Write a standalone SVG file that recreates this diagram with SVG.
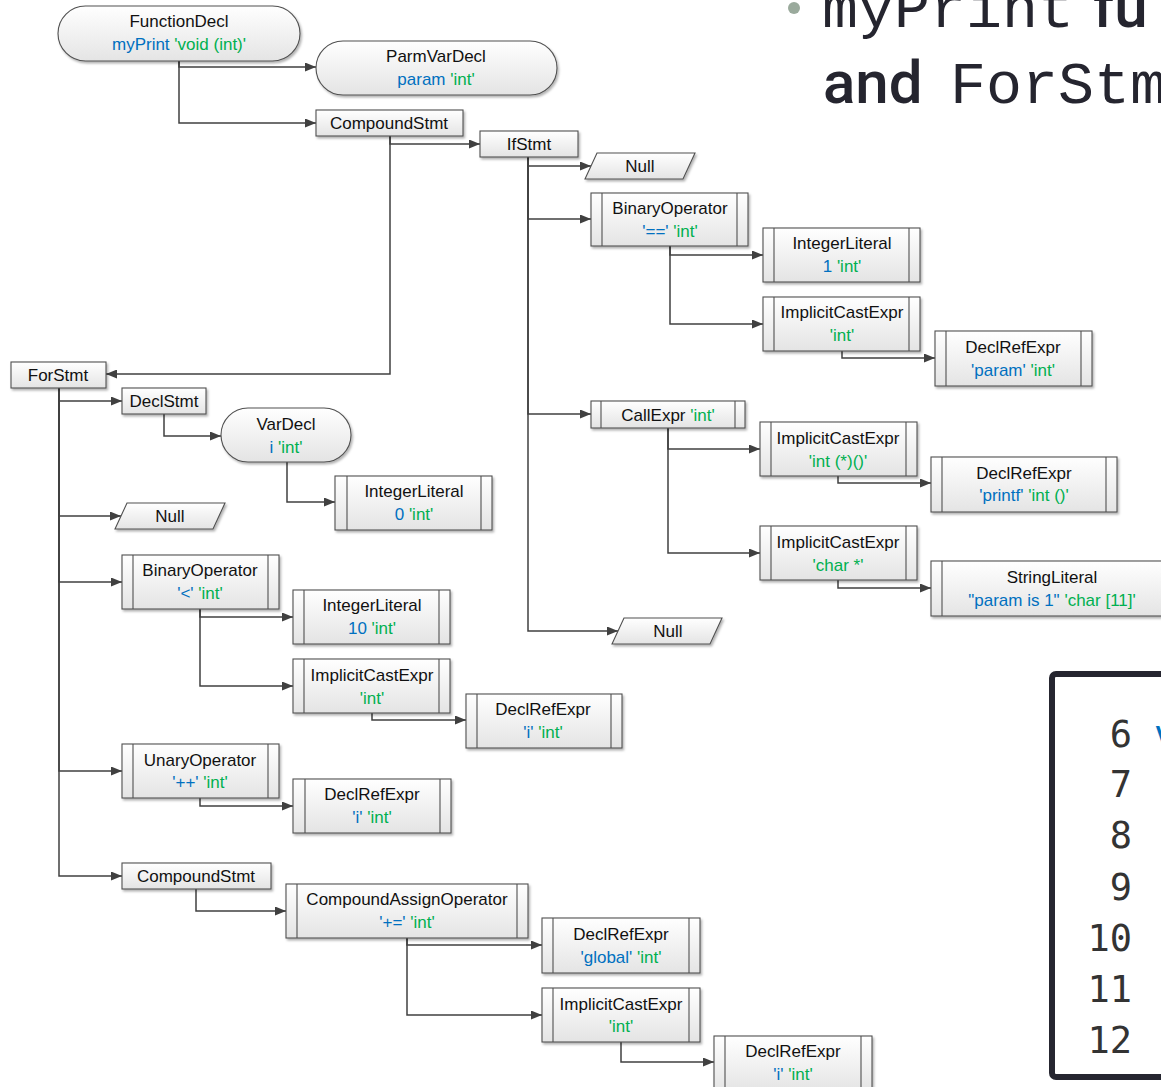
<svg xmlns="http://www.w3.org/2000/svg" width="1161" height="1087" viewBox="0 0 1161 1087">
  <defs>
    <linearGradient id="fillG" x1="0" y1="0" x2="0" y2="1">
      <stop offset="0" stop-color="#ffffff"/>
      <stop offset="1" stop-color="#e4e4e4"/>
    </linearGradient>
    <filter id="shadow" x="-10%" y="-10%" width="125%" height="140%">
      <feDropShadow dx="1.5" dy="2" stdDeviation="1.2" flood-color="#000" flood-opacity="0.3"/>
    </filter>
    <marker id="arrow" markerUnits="userSpaceOnUse" markerWidth="11" markerHeight="9" refX="11" refY="4.5" orient="auto">
      <path d="M0,0 L11,4.5 L0,9 z" fill="#404040"/>
    </marker>
  </defs>
  <style>
    .shape { fill: url(#fillG); stroke: #505050; stroke-width: 1.1; filter: url(#shadow); }
    .bar { stroke: #505050; stroke-width: 1.1; }
    .t { font-family: "Liberation Sans", Arial, sans-serif; font-size: 17px; fill: #111; text-anchor: middle; }
    .b { fill: #0070c0; }
    .g { fill: #00b050; }
    .conn path { fill: none; stroke: #404040; stroke-width: 1.5; marker-end: url(#arrow); }
    .slide { fill: #25252f; }
    .mono { font-family: "Liberation Mono", "Courier New", monospace; font-size: 60px; }
    .sans { font-family: Roboto, "Liberation Sans", sans-serif; font-size: 60px; font-weight: 500; }
    .ln { font-family: "DejaVu Sans Mono", monospace; font-size: 37px; fill: #333; text-anchor: end; }
  </style>

  <rect width="1161" height="1087" fill="#ffffff"/>

  <!-- slide heading -->
  <g id="heading">
    <circle cx="794" cy="8" r="6" fill="#9aaa9c"/>
    <text class="slide" y="27"><tspan class="mono" x="822">myPrint</tspan><tspan class="sans" x="1093">fu</tspan></text>
    <text class="slide" y="103"><tspan class="sans" x="823">and</tspan><tspan class="mono" x="950">ForStm</tspan></text>
  </g>

  <!-- source listing panel -->
  <g id="code">
    <rect x="1052" y="674" width="200" height="403" rx="4" fill="#ffffff" stroke="#262630" stroke-width="6"/>
    <text class="ln" x="1132" y="747">6</text>
    <text class="ln" x="1132" y="797">7</text>
    <text class="ln" x="1132" y="848">8</text>
    <text class="ln" x="1132" y="900">9</text>
    <text class="ln" x="1132" y="951">10</text>
    <text class="ln" x="1132" y="1002">11</text>
    <text class="ln" x="1132" y="1053">12</text>
    <text x="1154" y="747" font-family="DejaVu Sans Mono, monospace" font-size="37" fill="#0070c0">v</text>
  </g>

  <!-- connectors -->
  <g id="connectors" class="conn">
    <path d="M179,61 V67 H316"/>
    <path d="M179,61 V123 H316"/>
    <path d="M390,136 V144 H480"/>
    <path d="M390,136 V374 H106"/>
    <path d="M528,157 V166 H591"/>
    <path d="M528,157 V219 H591"/>
    <path d="M528,157 V414 H591"/>
    <path d="M528,157 V631 H618"/>
    <path d="M670,246 V255 H763"/>
    <path d="M670,246 V324 H763"/>
    <path d="M842,351 V358 H935"/>
    <path d="M668,428 V449 H760"/>
    <path d="M668,428 V553 H760"/>
    <path d="M838,476 V483 H931"/>
    <path d="M838,580 V588 H931"/>
    <path d="M59,388 V401 H122"/>
    <path d="M59,388 V516 H121"/>
    <path d="M59,388 V582 H122"/>
    <path d="M59,388 V771 H122"/>
    <path d="M59,388 V876 H122"/>
    <path d="M164,414 V436 H221"/>
    <path d="M287,462 V502 H335"/>
    <path d="M200,609 V617 H293"/>
    <path d="M200,609 V686 H293"/>
    <path d="M372,713 V720 H466"/>
    <path d="M200,798 V806 H293"/>
    <path d="M196,889 V911 H286"/>
    <path d="M407,938 V945 H542"/>
    <path d="M407,938 V1015 H542"/>
    <path d="M621,1042 V1062 H714"/>
  </g>

  <!-- nodes -->
  <g id="functionDecl">
    <rect class="shape" x="58" y="6" width="242" height="55" rx="27.5"/>
    <text class="t" x="179" y="27">FunctionDecl</text>
    <text class="t" x="179" y="50"><tspan class="b">myPrint</tspan> <tspan class="g">'void (int)'</tspan></text>
  </g>
  <g id="parmVarDecl">
    <rect class="shape" x="316" y="41" width="241" height="54" rx="27"/>
    <text class="t" x="436" y="62">ParmVarDecl</text>
    <text class="t" x="436" y="85"><tspan class="b">param</tspan> <tspan class="g">'int'</tspan></text>
  </g>
  <g id="compoundStmt1">
    <rect class="shape" x="316" y="110" width="147" height="26"/>
    <text class="t" x="389" y="129">CompoundStmt</text>
  </g>
  <g id="ifStmt">
    <rect class="shape" x="480" y="131" width="98" height="26"/>
    <text class="t" x="529" y="150">IfStmt</text>
  </g>
  <g id="ifNullCond">
    <path class="shape" d="M597,153 H695 L683,179 H585 Z"/>
    <text class="t" x="640" y="172">Null</text>
  </g>
  <g id="binaryOpEq">
    <rect class="shape" x="591" y="193" width="157" height="53"/>
    <path class="bar" d="M602,193 V246 M737,193 V246"/>
    <text class="t" x="670" y="214">BinaryOperator</text>
    <text class="t" x="670" y="237"><tspan class="b">'=='</tspan> <tspan class="g">'int'</tspan></text>
  </g>
  <g id="intLit1">
    <rect class="shape" x="763" y="228" width="157" height="54"/>
    <path class="bar" d="M774,228 V282 M909,228 V282"/>
    <text class="t" x="842" y="249">IntegerLiteral</text>
    <text class="t" x="842" y="272"><tspan class="b">1</tspan> <tspan class="g">'int'</tspan></text>
  </g>
  <g id="implCastParam">
    <rect class="shape" x="763" y="297" width="157" height="54"/>
    <path class="bar" d="M774,297 V351 M909,297 V351"/>
    <text class="t" x="842" y="318">ImplicitCastExpr</text>
    <text class="t g" x="842" y="341">'int'</text>
  </g>
  <g id="declRefParam">
    <rect class="shape" x="935" y="331" width="157" height="55"/>
    <path class="bar" d="M946,331 V386 M1081,331 V386"/>
    <text class="t" x="1013" y="353">DeclRefExpr</text>
    <text class="t" x="1013" y="376"><tspan class="b">'param'</tspan> <tspan class="g">'int'</tspan></text>
  </g>
  <g id="callExpr">
    <rect class="shape" x="591" y="401" width="154" height="27"/>
    <path class="bar" d="M601,401 V428 M735,401 V428"/>
    <text class="t" x="668" y="421">CallExpr <tspan class="g">'int'</tspan></text>
  </g>
  <g id="implCastFn">
    <rect class="shape" x="760" y="422" width="157" height="54"/>
    <path class="bar" d="M771,422 V476 M906,422 V476"/>
    <text class="t" x="838" y="444">ImplicitCastExpr</text>
    <text class="t g" x="838" y="467">'int (*)()'</text>
  </g>
  <g id="declRefPrintf">
    <rect class="shape" x="931" y="457" width="186" height="55"/>
    <path class="bar" d="M942,457 V512 M1106,457 V512"/>
    <text class="t" x="1024" y="479">DeclRefExpr</text>
    <text class="t" x="1024" y="501"><tspan class="b">'printf'</tspan> <tspan class="g">'int ()'</tspan></text>
  </g>
  <g id="implCastChar">
    <rect class="shape" x="760" y="526" width="157" height="54"/>
    <path class="bar" d="M771,526 V580 M906,526 V580"/>
    <text class="t" x="838" y="548">ImplicitCastExpr</text>
    <text class="t g" x="838" y="571">'char *'</text>
  </g>
  <g id="stringLiteral">
    <rect class="shape" x="931" y="561" width="245" height="55"/>
    <path class="bar" d="M942,561 V616"/>
    <text class="t" x="1052" y="583">StringLiteral</text>
    <text class="t" x="1052" y="606"><tspan class="b">"param is 1"</tspan> <tspan class="g">'char [11]'</tspan></text>
  </g>
  <g id="ifNullElse">
    <path class="shape" d="M624,618 H722 L710,644 H612 Z"/>
    <text class="t" x="668" y="637">Null</text>
  </g>

  <g id="forStmt">
    <rect class="shape" x="11" y="362" width="95" height="26"/>
    <text class="t" x="58" y="381">ForStmt</text>
  </g>
  <g id="declStmt">
    <rect class="shape" x="122" y="388" width="84" height="26"/>
    <text class="t" x="164" y="407">DeclStmt</text>
  </g>
  <g id="varDecl">
    <rect class="shape" x="221" y="408" width="130" height="54" rx="27"/>
    <text class="t" x="286" y="430">VarDecl</text>
    <text class="t" x="286" y="453"><tspan class="b">i</tspan> <tspan class="g">'int'</tspan></text>
  </g>
  <g id="intLit0">
    <rect class="shape" x="335" y="476" width="157" height="54"/>
    <path class="bar" d="M347,476 V530 M481,476 V530"/>
    <text class="t" x="414" y="497">IntegerLiteral</text>
    <text class="t" x="414" y="520"><tspan class="b">0</tspan> <tspan class="g">'int'</tspan></text>
  </g>
  <g id="forNull">
    <path class="shape" d="M127,503 H225 L213,529 H115 Z"/>
    <text class="t" x="170" y="522">Null</text>
  </g>
  <g id="binaryOpLt">
    <rect class="shape" x="122" y="555" width="157" height="54"/>
    <path class="bar" d="M133,555 V609 M268,555 V609"/>
    <text class="t" x="200" y="576">BinaryOperator</text>
    <text class="t" x="200" y="599"><tspan class="b">'&lt;'</tspan> <tspan class="g">'int'</tspan></text>
  </g>
  <g id="intLit10">
    <rect class="shape" x="293" y="590" width="157" height="54"/>
    <path class="bar" d="M304,590 V644 M439,590 V644"/>
    <text class="t" x="372" y="611">IntegerLiteral</text>
    <text class="t" x="372" y="634"><tspan class="b">10</tspan> <tspan class="g">'int'</tspan></text>
  </g>
  <g id="implCastI">
    <rect class="shape" x="293" y="659" width="157" height="54"/>
    <path class="bar" d="M304,659 V713 M439,659 V713"/>
    <text class="t" x="372" y="681">ImplicitCastExpr</text>
    <text class="t g" x="372" y="704">'int'</text>
  </g>
  <g id="declRefI1">
    <rect class="shape" x="466" y="694" width="156" height="54"/>
    <path class="bar" d="M477,694 V748 M611,694 V748"/>
    <text class="t" x="543" y="715">DeclRefExpr</text>
    <text class="t" x="543" y="738"><tspan class="b">'i'</tspan> <tspan class="g">'int'</tspan></text>
  </g>
  <g id="unaryOp">
    <rect class="shape" x="122" y="744" width="157" height="54"/>
    <path class="bar" d="M133,744 V798 M268,744 V798"/>
    <text class="t" x="200" y="766">UnaryOperator</text>
    <text class="t" x="200" y="788"><tspan class="b">'++'</tspan> <tspan class="g">'int'</tspan></text>
  </g>
  <g id="declRefI2">
    <rect class="shape" x="293" y="779" width="158" height="54"/>
    <path class="bar" d="M305,779 V833 M440,779 V833"/>
    <text class="t" x="372" y="800">DeclRefExpr</text>
    <text class="t" x="372" y="823"><tspan class="b">'i'</tspan> <tspan class="g">'int'</tspan></text>
  </g>
  <g id="compoundStmt2">
    <rect class="shape" x="122" y="863" width="149" height="26"/>
    <text class="t" x="196" y="882">CompoundStmt</text>
  </g>
  <g id="compoundAssign">
    <rect class="shape" x="286" y="884" width="242" height="54"/>
    <path class="bar" d="M297,884 V938 M517,884 V938"/>
    <text class="t" x="407" y="905">CompoundAssignOperator</text>
    <text class="t" x="407" y="928"><tspan class="b">'+='</tspan> <tspan class="g">'int'</tspan></text>
  </g>
  <g id="declRefGlobal">
    <rect class="shape" x="542" y="918" width="158" height="55"/>
    <path class="bar" d="M553,918 V973 M689,918 V973"/>
    <text class="t" x="621" y="940">DeclRefExpr</text>
    <text class="t" x="621" y="963"><tspan class="b">'global'</tspan> <tspan class="g">'int'</tspan></text>
  </g>
  <g id="implCastI2">
    <rect class="shape" x="542" y="988" width="158" height="54"/>
    <path class="bar" d="M553,988 V1042 M689,988 V1042"/>
    <text class="t" x="621" y="1010">ImplicitCastExpr</text>
    <text class="t g" x="621" y="1032">'int'</text>
  </g>
  <g id="declRefI3">
    <rect class="shape" x="714" y="1036" width="158" height="56"/>
    <path class="bar" d="M725,1036 V1092 M861,1036 V1092"/>
    <text class="t" x="793" y="1057">DeclRefExpr</text>
    <text class="t" x="793" y="1080"><tspan class="b">'i'</tspan> <tspan class="g">'int'</tspan></text>
  </g>
</svg>
